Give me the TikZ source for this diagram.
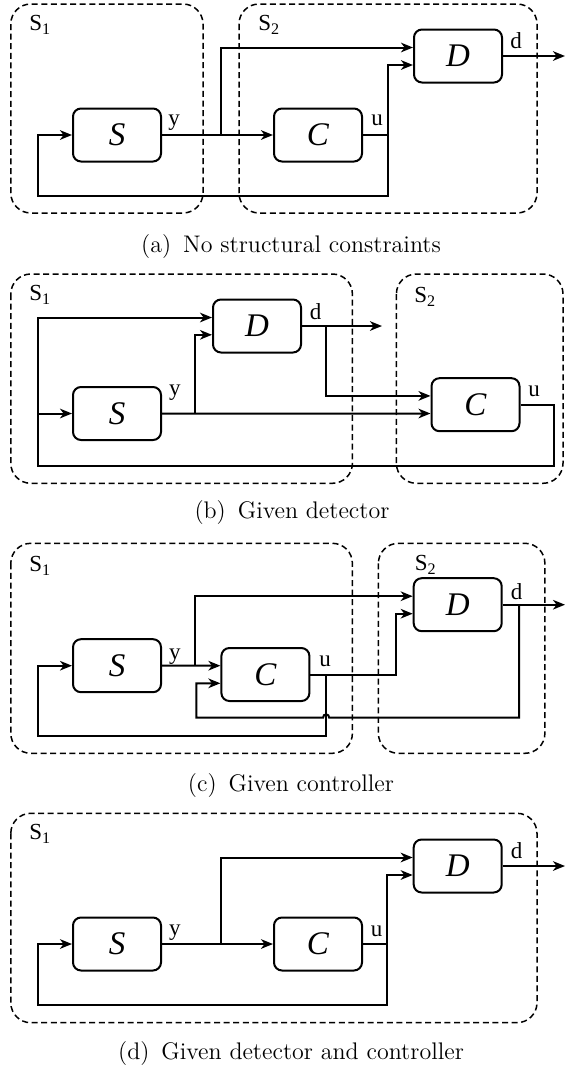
\documentclass[tikz,border=0pt]{standalone}
\usepackage{fontspec}
\newfontfamily\tm{Liberation Serif}
\usetikzlibrary{arrows.meta,calc}
\tikzset{
 blk/.style={draw, line width=1pt, rounded corners=4pt, minimum width=44pt, minimum height=26.5pt, inner sep=0pt, font=\tm\fontsize{16.5}{18}\selectfont\itshape},
 grp/.style={draw, dash pattern=on 3pt off 1.8pt, line width=0.75pt, rounded corners=10pt},
 wire/.style={line width=1pt},
 arr/.style={wire, -{Stealth[length=6pt,width=4.8pt,inset=1.8pt]}},
 lbl/.style={inner sep=0pt, font=\tm\fontsize{11.5}{13}\selectfont},
 captext/.style={inner sep=0pt, font=\fontsize{12}{14}\selectfont},
}
\newcommand{\cgap}{\hspace{6pt}}
\begin{document}
\begin{tikzpicture}[x=0.5pt,y=-0.5pt]
\useasboundingbox (0,0) rectangle (565,1072);

% ---------------- (a)
\draw[grp] (10.8,4) rectangle (203,213);
\draw[grp] (239,4) rectangle (537,213);
\node[lbl,anchor=west] (s1a) at (29,25) {S\textsubscript{1}};
\node[lbl,anchor=west] (s2a) at (258,25) {S\textsubscript{2}};
\node[blk] (Sa) at (117,135) {S};
\node[blk] (Ca) at (318,135) {C};
\node[blk] (Da) at (458,56) {D};
\coordinate (ya) at (221,135);
\coordinate (ua) at (388,135);
\coordinate (fa) at (388,196);
\coordinate (fa2) at (37.8,196);
\coordinate (outa) at (565,56);
\draw[arr] (Sa.east) -- (Ca.west);
\draw[arr] (ya) |- ($(Da.west)+(0,-8.5)$);
\draw[arr] (Ca.east) -- (ua) |- ($(Da.west)+(0,9)$);
\draw[arr] (ua) -- (fa) -- (fa2) |- (Sa.west);
\draw[arr] (Da.east) -- (outa);
\node[lbl] (lya) at (174,123) {y};
\node[lbl] (lua) at (377,120.5) {u};
\node[lbl] (lda) at (516,41) {d};
\node[captext] (capa) at (291,247) {(a)\cgap No structural constraints};

% ---------------- (b)
\draw[grp] (10.8,274) rectangle (352.4,483.3);
\draw[grp] (396.4,274) rectangle (563,483.3);
\node[lbl,anchor=west] (s1b) at (29,295) {S\textsubscript{1}};
\node[lbl,anchor=west] (s2b) at (414,297) {S\textsubscript{2}};
\node[blk] (Sb) at (117,413.5) {S};
\node[blk] (Db) at (257,326) {D};
\node[blk] (Cb) at (475.5,404.7) {C};
\coordinate (yb) at (194.6,413.5);
\coordinate (db) at (326,326);
\coordinate (outb) at (382,326);
\coordinate (ub1) at (554,404.7);
\coordinate (ub2) at (554,466);
\coordinate (ub3) at (37.8,466);
\coordinate (ub4) at (37.8,413.5);
\draw[arr] (Sb.east) -- ($(Cb.west)+(0,8.8)$);
\draw[arr] (yb) |- ($(Db.west)+(0,8.8)$);
\draw[arr] (Db.east) -- (outb);
\draw[arr] (db) |- ($(Cb.west)+(0,-8.8)$);
\draw[arr] (Cb.east) -- (ub1) -- (ub2) -- (ub3) |- ($(Db.west)+(0,-8.5)$);
\draw[arr] (ub4) -- (Sb.west);
\node[lbl] (lyb) at (174.8,393) {y};
\node[lbl] (lub) at (534,391) {u};
\node[lbl] (ldb) at (315.5,311.7) {d};
\node[captext] (capb) at (292,513) {(b)\cgap Given detector};

% ---------------- (c)
\draw[grp] (10.8,543.3) rectangle (352.4,753.3);
\draw[grp] (378.4,543.3) rectangle (544.9,753.3);
\node[lbl,anchor=west] (s1c) at (29,566) {S\textsubscript{1}};
\node[lbl,anchor=west] (s2c) at (414.4,565) {S\textsubscript{2}};
\node[blk] (Sc) at (117,665.7) {S};
\node[blk] (Cc) at (265.4,674.5) {C};
\node[blk] (Dc) at (457.7,604.7) {D};
\coordinate (yc) at (194.6,665.7);
\coordinate (uc1) at (326.1,674.5);
\coordinate (uc2) at (396.4,674.5);
\coordinate (uc3) at (326.1,735.7);
\coordinate (uc4) at (37.8,735.7);
\coordinate (dc1) at (519,604.7);
\coordinate (dc2) at (519,717.7);
\coordinate (dc3) at (196.4,717.7);
\coordinate (outc) at (565,604.7);
\draw[arr] (Sc.east) -- ($(Cc.west)+(0,-8.8)$);
\draw[arr] (yc) |- ($(Dc.west)+(0,-8.5)$);
\draw[arr] (Cc.east) -- (uc2) |- ($(Dc.west)+(0,9)$);
\draw[arr] (uc1) -- (uc3) -- (uc4) |- (Sc.west);
\draw[arr] (Dc.east) -- (outc);
\draw[arr] (dc1) -- (dc2) -- (329.2,717.7) .. controls (329.2,713.3) and (323,713.3) .. (323,717.7) -- (dc3) |- ($(Cc.west)+(0,8.8)$);
\node[lbl] (lyc) at (174.8,657) {y};
\node[lbl] (luc) at (325,661.7) {u};
\node[lbl] (ldc) at (516.7,591.5) {d};
\node[captext] (capc) at (291,786) {(c)\cgap Given controller};

% ---------------- (d)
\draw[grp] (10.8,813.3) rectangle (537,1022.7);
\node[lbl,anchor=west] (s1d) at (29,834) {S\textsubscript{1}};
\node[blk] (Sd) at (117,944) {S};
\node[blk] (Cd) at (318,944) {C};
\node[blk] (Dd) at (457.7,866) {D};
\coordinate (yd) at (220.5,944);
\coordinate (ud) at (387.4,944);
\coordinate (fd) at (387.4,1005);
\coordinate (fd2) at (37.8,1005);
\coordinate (outd) at (565,866);
\draw[arr] (Sd.east) -- (Cd.west);
\draw[arr] (yd) |- ($(Dd.west)+(0,-8.5)$);
\draw[arr] (Cd.east) -- (ud) |- ($(Dd.west)+(0,9)$);
\draw[arr] (ud) -- (fd) -- (fd2) |- (Sd.west);
\draw[arr] (Dd.east) -- (outd);
\node[lbl] (lyd) at (174.8,932.5) {y};
\node[lbl] (lud) at (376.6,931) {u};
\node[lbl] (ldd) at (516.7,851) {d};
\node[captext] (capd) at (291,1053) {(d)\cgap Given detector and controller};
\end{tikzpicture}
\end{document}
